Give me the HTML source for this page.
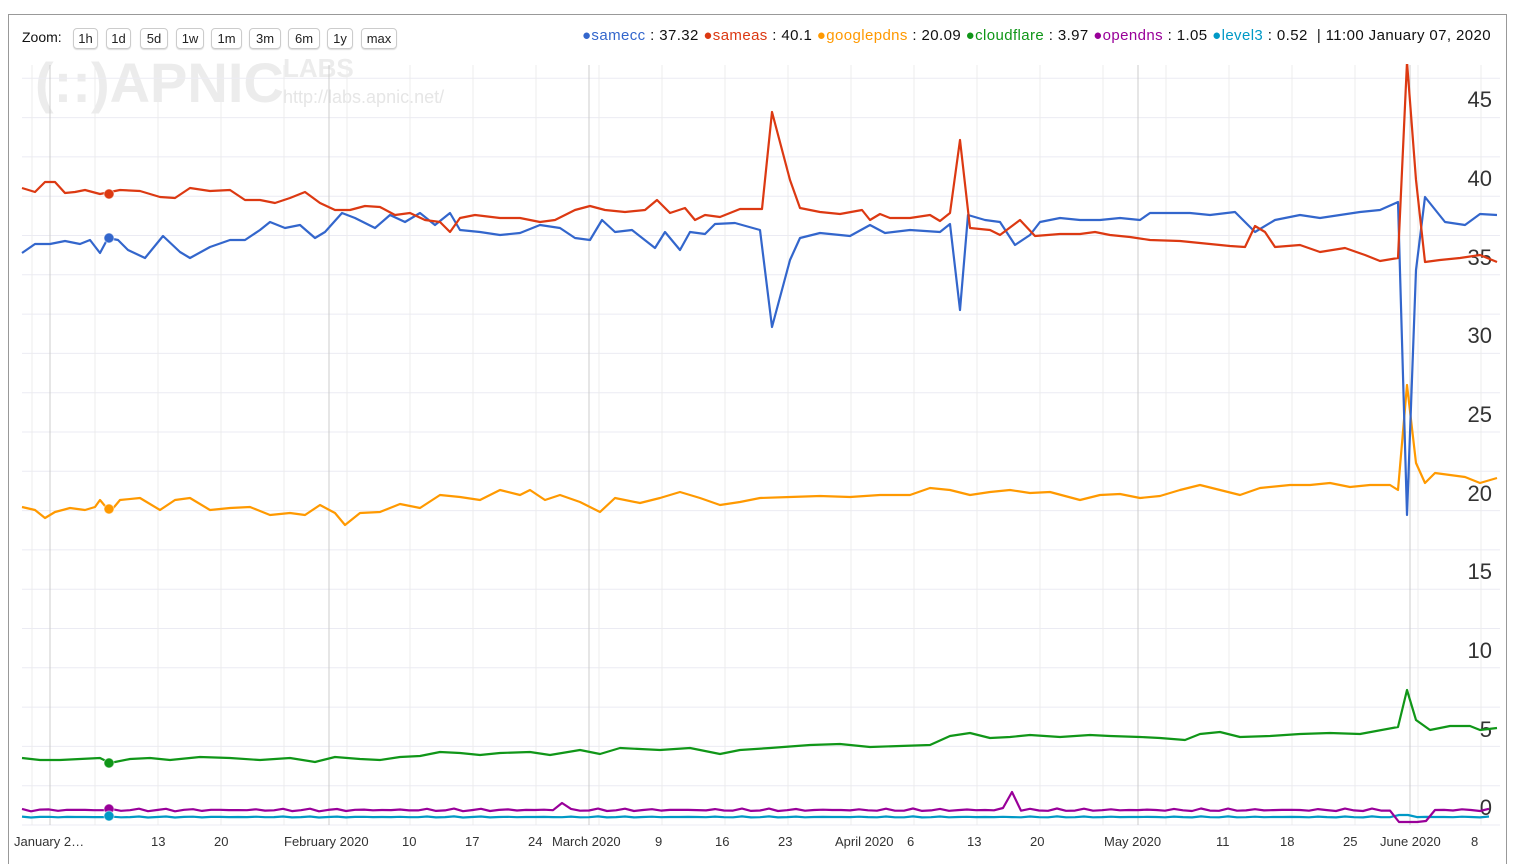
<!DOCTYPE html>
<html><head><meta charset="utf-8"><style>
body{margin:0;background:#fff;font-family:"Liberation Sans",sans-serif;}
.frame{position:absolute;left:8px;top:14px;width:1499px;height:850px;border:1px solid #999;box-sizing:border-box;border-bottom:none}
.btn{position:absolute;top:28px;height:19px;border:1px solid #ccc;border-radius:4px;font-size:13px;line-height:19px;text-align:center;color:#222;box-shadow:0 1px 1px #ddd}
</style></head><body>
<div class="frame"></div>
<svg width="1525" height="858" style="position:absolute;left:0;top:0" id="s"></svg>
<div style="position:absolute;left:22px;top:29px;font-size:14px;color:#111">Zoom:</div>
<div class="btn" style="left:73px;width:23px">1h</div>
<div class="btn" style="left:106px;width:23px">1d</div>
<div class="btn" style="left:140px;width:26px">5d</div>
<div class="btn" style="left:176px;width:26px">1w</div>
<div class="btn" style="left:211px;width:29px">1m</div>
<div class="btn" style="left:249px;width:30px">3m</div>
<div class="btn" style="left:288px;width:30px">6m</div>
<div class="btn" style="left:327px;width:24px">1y</div>
<div class="btn" style="left:361px;width:34px">max</div>
<div style="position:absolute;right:34px;top:27px;font-size:15px;letter-spacing:0.4px;color:#111;white-space:nowrap">
<span style="color:#3366cc">●samecc</span> : 37.32 <span style="color:#dc3912">●sameas</span> : 40.1 <span style="color:#ff9900">●googlepdns</span> : 20.09 <span style="color:#109618">●cloudflare</span> : 3.97 <span style="color:#990099">●opendns</span> : 1.05 <span style="color:#0099c6">●level3</span> : 0.52 &nbsp;| 11:00 January 07, 2020</div>
<script>
const s=document.getElementById('s');let h='<defs><clipPath id="c"><rect x="0" y="64" width="1525" height="794"/></clipPath></defs>';
h+='<text x="35" y="102" font-size="56" font-weight="bold" fill="#ececec" font-family="Liberation Sans">(::)APNIC</text>';
h+='<text x="283" y="77" font-size="26" font-weight="bold" fill="#ececec" font-family="Liberation Sans">LABS</text>';
h+='<text x="283" y="103" font-size="18" fill="#e6e6e6" font-family="Liberation Sans">http://labs.apnic.net/</text>';
for(let y=825;y>70;y-=39.3)h+=`<line x1="22" x2="1500" y1="${y}" y2="${y}" stroke="#ebebf3"/>`;
for(let x=32;x<1500;x+=63)h+=`<line x1="${x}" x2="${x}" y1="65" y2="825" stroke="#ececec"/>`;
[50,329,589,1138,1410].forEach(x=>h+=`<line x1="${x}" x2="${x}" y1="65" y2="825" stroke="#ccc"/>`);
[[45,99],[40,178],[35,257],[30,335],[25,414],[20,493],[15,571],[10,650],[5,729],[0,807]].forEach(([v,y])=>h+=`<text x="1492" y="${y+8}" font-size="22" fill="#333" text-anchor="end">${v}</text>`);
[["January 2…",14],["13",151],["20",214],["February 2020",284],["10",402],["17",465],["24",528],["March 2020",552],["9",655],["16",715],["23",778],["April 2020",835],["6",907],["13",967],["20",1030],["May 2020",1104],["11",1216],["18",1280],["25",1343],["June 2020",1380],["8",1471]].forEach(([t,x])=>h+=`<text x="${x}" y="846" font-size="13" fill="#333">${t}</text>`);
function P(a,c){h+=`<polyline clip-path="url(#c)" fill="none" stroke="${c}" stroke-width="2.2" stroke-linejoin="round" points="${a}"/>`}
function wig(base,amp,extra){let pts=[];for(let x=22;x<=1497;x+=9){let y=base+amp*Math.sin(x*0.37)*Math.cos(x*0.11);for(const [ex,ey] of extra)if(Math.abs(x-ex)<5)y=ey;pts.push(x+','+y.toFixed(1))}return pts.join(' ')}
P(wig(817,0.6,[[1400,815],[1409,815]]),'#0099c6');
P(wig(810,1.5,[[563,803],[1013,792],[1004,808],[1400,822],[1409,822],[1418,822],[1427,821]]),'#990099');
P("22,758 40,760 60,760 80,759 100,758 110,763 130,759 150,758 170,760 200,757 230,758 260,760 290,758 315,762 335,757 360,759 380,760 400,757 420,756 440,752 460,753 480,755 500,753 530,752 550,755 580,750 600,754 620,748 660,750 690,748 720,754 740,750 770,748 810,745 840,744 870,747 900,746 930,745 950,736 970,733 990,738 1010,737 1030,735 1060,737 1090,735 1110,736 1140,737 1160,738 1185,740 1200,734 1220,732 1240,737 1270,736 1300,734 1330,733 1360,734 1398,727 1407,690 1416,720 1430,730 1450,726 1470,726 1480,730 1497,728",'#109618');
P("22,507 35,510 45,518 55,512 70,508 85,510 95,507 100,500 110,512 120,500 140,498 160,510 175,500 190,498 210,510 230,508 250,507 270,515 290,513 305,515 320,505 335,513 345,525 360,513 380,512 400,504 420,508 440,495 460,497 480,500 500,490 520,495 530,490 545,500 560,495 580,502 600,512 615,498 640,503 660,498 680,492 700,498 720,505 740,502 760,498 790,497 820,496 850,497 880,495 910,495 930,488 950,490 970,495 990,492 1010,490 1030,493 1050,492 1080,500 1100,495 1120,494 1140,498 1160,496 1180,490 1200,485 1220,490 1240,495 1260,488 1290,485 1310,485 1330,483 1350,487 1370,485 1390,485 1398,490 1407,385 1416,463 1425,483 1435,473 1450,475 1465,477 1480,483 1497,478",'#ff9900');
P("22,253 35,244 50,244 65,241 80,244 90,240 100,253 108,238 118,240 128,250 145,258 163,236 180,252 190,258 210,247 230,240 245,240 260,230 270,222 285,228 300,225 315,238 325,232 342,213 355,218 375,228 390,215 405,222 420,213 435,225 450,213 460,230 480,232 500,235 520,233 540,225 560,228 575,238 590,240 602,220 615,232 632,230 655,248 665,232 680,250 690,232 705,234 715,224 735,223 760,230 772,327 790,260 800,238 820,233 850,236 870,225 885,233 910,230 940,232 950,224 960,310 968,215 985,220 1000,222 1015,245 1030,235 1040,222 1060,218 1080,220 1100,220 1120,218 1140,220 1150,213 1170,213 1190,213 1210,215 1235,212 1255,232 1275,220 1300,215 1320,218 1340,215 1360,212 1380,210 1398,202 1407,515 1416,270 1425,197 1445,222 1465,225 1480,214 1497,215",'#3366cc');
P("22,188 35,192 45,182 55,182 65,193 75,192 85,190 100,194 120,190 140,191 160,197 175,198 190,188 210,191 230,190 245,200 260,200 275,203 290,198 305,192 320,203 335,210 350,210 365,206 380,207 395,215 410,213 425,220 440,222 450,232 460,218 475,215 500,218 520,218 540,222 555,220 575,210 590,206 605,210 625,212 645,210 657,200 670,213 685,208 695,220 705,215 720,217 740,209 762,209 772,112 790,180 800,208 820,212 840,214 862,210 870,220 880,214 890,218 910,218 930,215 940,221 950,213 960,140 970,228 990,230 1000,235 1020,220 1035,236 1060,234 1080,234 1095,232 1110,235 1130,237 1150,240 1180,241 1200,243 1230,246 1245,247 1255,226 1265,232 1275,247 1300,245 1320,252 1345,248 1365,255 1380,261 1398,258 1407,62 1416,180 1425,262 1440,260 1460,258 1480,255 1497,262",'#dc3912');
[[194,'#dc3912'],[238,'#3366cc'],[509,'#ff9900'],[763,'#109618'],[809,'#990099'],[816,'#0099c6']].forEach(([y,c])=>h+=`<circle cx="109" cy="${y}" r="5" fill="${c}" stroke="#fff" stroke-opacity=".5"/>`);
s.innerHTML=h;
</script>
</body></html>
